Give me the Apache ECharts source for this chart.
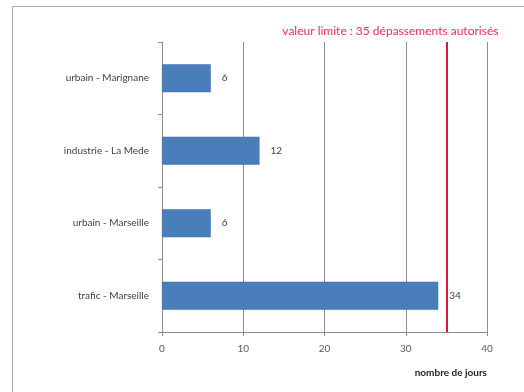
<!DOCTYPE html>
<html>
<head>
<meta charset="utf-8">
<script src="https://cdn.jsdelivr.net/npm/echarts@6/dist/echarts.min.js"></script>
<style>
  html, body { margin: 0; padding: 0; background: #fff; }
  #chart { width: 524px; height: 392px; }
</style>
</head>
<body>
<div id="chart"></div>
<script>
// stations, from bottom to top as drawn
const stations = ['trafic - Marseille', 'urbain - Marseille', 'industrie - La Mede', 'urbain - Marignane'];
const days = [34, 6, 12, 6];
const limitValue = 35;
const limitLabel = 'valeur limite : 35 dépassements autorisés';
const xTicks = [0, 10, 20, 30, 40];

const chart = echarts.init(document.getElementById('chart'));

chart.setOption({
    animation: false,
    textStyle: { fontFamily: 'Lato, "Open Sans", sans-serif' },
    graphic: [
        {
            type: 'rect',
            shape: { x: 12.5, y: 6.5, width: 530, height: 400 },
            style: { fill: 'none', stroke: '#a6a6a6', lineWidth: 1 },
            z: -1
        }
    ],
    grid: { left: 162, right: 37, top: 42, bottom: 60 },
    xAxis: {
        type: 'value',
        min: xTicks[0],
        max: xTicks[xTicks.length - 1],
        interval: 10,
        name: 'nombre de jours',
        nameLocation: 'end',
        nameGap: 0,
        nameTextStyle: {
            fontSize: 10, fontWeight: 'bold', color: '#222',
            align: 'right', verticalAlign: 'top', padding: [36, 0, 0, 0]
        },
        axisLine: { show: true, lineStyle: { color: '#8c8c8c' } },
        axisTick: { show: true, length: 4, lineStyle: { color: '#8c8c8c' } },
        axisLabel: { color: '#595959', fontSize: 10, margin: 12 },
        splitLine: { show: true, lineStyle: { color: '#8c8c8c', width: 1 } }
    },
    yAxis: {
        type: 'category',
        data: stations,
        axisLine: { show: true, lineStyle: { color: '#8c8c8c' } },
        axisTick: { show: true, length: 4, inside: false, lineStyle: { color: '#8c8c8c' } },
        axisLabel: { color: '#404040', fontSize: 10, margin: 13 },
        splitLine: { show: false }
    },
    series: [
        {
            type: 'bar',
            data: days,
            barWidth: 28,
            itemStyle: { color: '#4a7ebb', borderColor: '#3d6fad', borderWidth: 0.5 },
            label: {
                show: true,
                position: 'right',
                distance: 11,
                color: '#404040',
                fontSize: 10
            },
            markLine: {
                silent: true,
                symbol: 'none',
                lineStyle: { color: '#e0182d', width: 2, type: 'solid' },
                label: {
                    show: true,
                    position: 'end',
                    formatter: limitLabel,
                    color: '#e8324b',
                    fontSize: 12,
                    distance: 5,
                    offset: [-56, 0]
                },
                data: [{ xAxis: limitValue }]
            }
        }
    ]
});
</script>
</body>
</html>
